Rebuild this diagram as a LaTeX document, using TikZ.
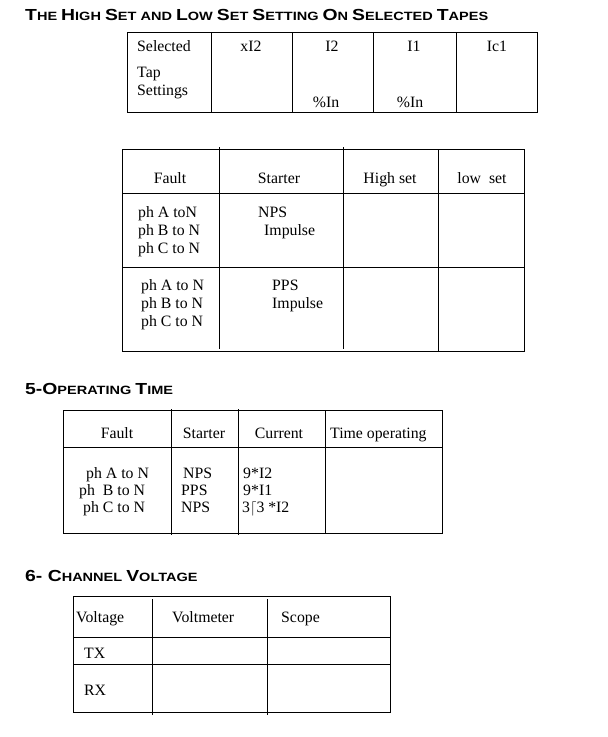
\documentclass[tikz,border=0pt]{standalone}
\usepackage{fontspec}
\setmainfont{Liberation Serif}
\newfontfamily\headfont[FakeStretch=1.21]{Liberation Sans}
\newcommand{\hcap}[1]{{\fontsize{16}{16}\selectfont #1}}
\tikzset{
	heading/.style={anchor=base west, inner sep=0pt, font=\headfont\bfseries\fontsize{12}{12}\selectfont},
	celltext/.style={anchor=base west, inner sep=0pt, font=\fontsize{15.8}{15.8}\selectfont},
	cellmid/.style={anchor=base, inner sep=0pt, font=\fontsize{15.8}{15.8}\selectfont},
	rule/.style={line width=1pt}
}
\begin{document}
\begin{tikzpicture}[x=1pt, y=-1pt]
	\useasboundingbox[fill=white] (0,0) rectangle (608,737);
	
	\node[heading] (tapestitle) at (25,20) {\hcap{T}HE \hcap{H}IGH \hcap{S}ET AND \hcap{L}OW \hcap{S}ET \hcap{S}ETTING \hcap{O}N \hcap{S}ELECTED \hcap{T}APES};
	
	\draw[rule] (127,32) rectangle (537,112);
	\draw[rule] (211,32) -- (211,112) (292,32) -- (292,112) (373,32) -- (373,112) (456,32) -- (456,112);
	\node[celltext] (selected) at (137,51) {Selected};
	\node[celltext] (tap) at (137,77) {Tap};
	\node[celltext] (settings) at (137,95) {Settings};
	\node[cellmid] (xitwo) at (251,51) {xI2};
	\node[cellmid] (itwo) at (332,51) {I2};
	\node[cellmid] (ione) at (414,51) {I1};
	\node[cellmid] (icone) at (497,51) {Ic1};
	\node[cellmid] (itwoin) at (326,107) {\%In};
	\node[cellmid] (ionein) at (410,107) {\%In};
	
	\draw[rule] (122,149) rectangle (524,351);
	\draw[rule] (122,193) -- (524,193) (122,267) -- (524,267);
	\draw[rule] (219,147) -- (219,349) (343,147) -- (343,349) (438,149) -- (438,351);
	\node[cellmid] (faultA) at (170,183) {Fault};
	\node[cellmid] (starterA) at (279,183) {Starter};
	\node[cellmid] (highset) at (390,183) {High set};
	\node[cellmid] (lowset) at (482,183) {low\ \ set};
	\node[celltext] (nA) at (138,217) {ph A toN};
	\node[celltext] (nB) at (138,235) {ph B to N};
	\node[celltext] (nC) at (138,253) {ph C to N};
	\node[celltext] (nps) at (258,217) {NPS};
	\node[celltext] (impulseA) at (264,235) {Impulse};
	\node[celltext] (pA) at (141,290) {ph A to N};
	\node[celltext] (pB) at (141,308) {ph B to N};
	\node[celltext] (pC) at (141,326) {ph C to N};
	\node[celltext] (pps) at (272,290) {PPS};
	\node[celltext] (impulseB) at (272,308) {Impulse};
	
	\node[heading] (timetitle) at (25,394) {\hcap{5-O}PERATING \hcap{T}IME};
	
	\draw[rule] (63,410) rectangle (442,533);
	\draw[rule] (63,447) -- (442,447);
	\draw[rule] (171,409) -- (171,535) (238,409) -- (238,535) (325,410) -- (325,533);
	\node[cellmid] (faultB) at (117,438) {Fault};
	\node[cellmid] (starterB) at (204,438) {Starter};
	\node[cellmid] (current) at (279,438) {Current};
	\node[celltext] (timeop) at (330,438) {Time operating};
	\node[celltext] (tA) at (86,478) {ph A to N};
	\node[celltext] (tB) at (79,495) {ph\ \ B to N};
	\node[celltext] (tC) at (83,512) {ph C to N};
	\node[celltext] (sA) at (183,478) {NPS};
	\node[celltext] (sB) at (181,495) {PPS};
	\node[celltext] (sC) at (181,512) {NPS};
	\node[celltext] (cA) at (243,478) {9*I2};
	\node[celltext] (cB) at (243,495) {9*I1};
	\node[celltext] (cC) at (242,512) {3\ensuremath{\lceil}3 *I2};
	
	\node[heading] (channeltitle) at (25,581) {\hcap{6- C}HANNEL \hcap{V}OLTAGE};
	
	\draw[rule] (73,596) rectangle (390,712);
	\draw[rule] (73,637) -- (390,637) (73,664) -- (390,664);
	\draw[rule] (152,599) -- (152,715) (267,599) -- (267,715);
	\node[celltext] (voltage) at (76,622) {Voltage};
	\node[celltext] (voltmeter) at (172,622) {Voltmeter};
	\node[celltext] (scope) at (281,622) {Scope};
	\node[celltext] (tx) at (84,658) {TX};
	\node[celltext] (rx) at (84,695) {RX};
\end{tikzpicture}
\end{document}
